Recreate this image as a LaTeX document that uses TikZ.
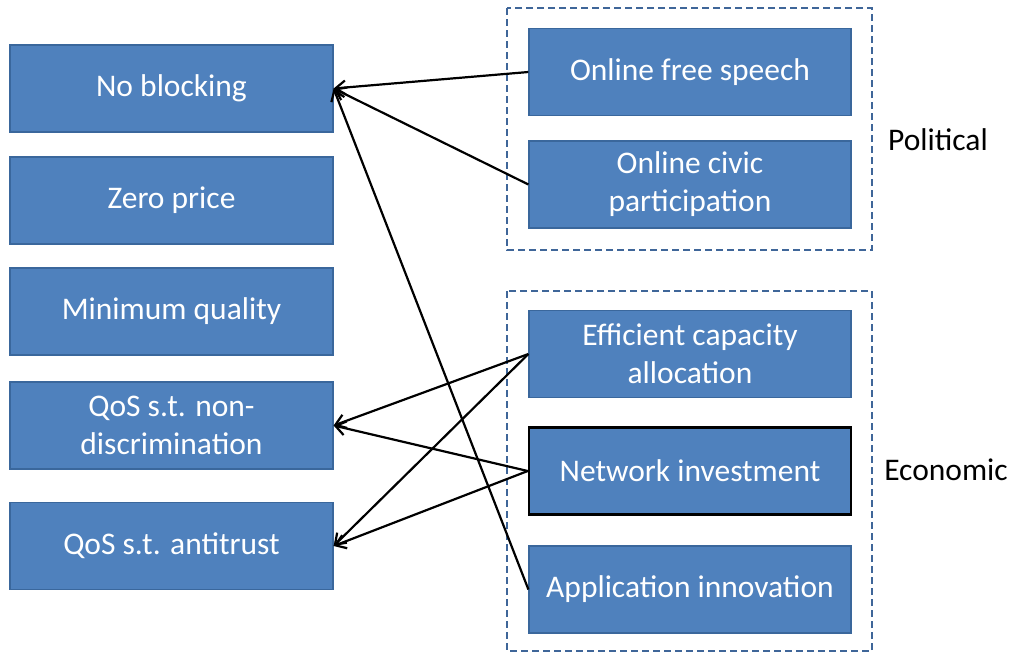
\documentclass[tikz,border=0pt]{standalone}
\usepackage{fontspec}
\setmainfont{Carlito}
\usetikzlibrary{arrows.meta}
\definecolor{boxfill}{HTML}{4F81BD}
\definecolor{boxline}{HTML}{3A679C}
\definecolor{dashline}{HTML}{3F6699}
\begin{document}
\begin{tikzpicture}[x=1pt,y=-1pt,
  bx/.style={rectangle, fill=boxfill, draw=boxline, line width=1.2pt, text=white,
    font=\fontsize{31.5}{38}\selectfont, align=center, inner sep=2pt},
  lbox/.style={bx, minimum width=323, minimum height=87},
  rbox/.style={bx, minimum width=322, minimum height=87},
  grp/.style={draw=dashline, dash pattern=on 7pt off 4pt, line width=2.2pt},
  arr/.style={draw=black, line width=2.2pt, -{Straight Barb[length=10pt,width=14pt,line width=2.2pt]}},
  lab/.style={font=\fontsize{31.5}{38}\selectfont, text=black}]
\useasboundingbox (0,0) rectangle (1019,654);
\draw[grp] (507,8) rectangle (872,250);
\draw[grp] (507,291) rectangle (872,651);
\node[lbox] (nb) at (171.5,88.5) {No blocking};
\node[lbox] (zp) at (171.5,200.5) {Zero price};
\node[lbox] (mq) at (171.5,311.5) {Minimum quality};
\node[lbox] (qn) at (171.5,425.5) {QoS s.t. non-\\discrimination};
\node[lbox] (qa) at (171.5,546) {QoS s.t. antitrust};
\node[rbox] (fs) at (690,72) {Online free speech};
\node[rbox] (cp) at (690,184.5) {Online civic\\participation};
\node[rbox] (ec) at (690,354) {Efficient capacity\\allocation};
\node[rbox, draw=black, line width=2.5pt] (ni) at (690,471) {Network investment};
\node[rbox] (ai) at (690,589.5) {Application innovation};
\node[lab] (pol) at (938,140) {Political};
\node[lab] (eco) at (946,470) {Economic};
\draw[arr] (fs.west) -- (nb.east);
\draw[arr] (cp.west) -- (nb.east);
\draw[arr] (ai.west) -- (nb.east);
\draw[arr] (ec.west) -- (qn.east);
\draw[arr] (ec.west) -- (qa.east);
\draw[arr] (ni.west) -- (qn.east);
\draw[arr] (ni.west) -- (qa.east);
\end{tikzpicture}
\end{document}
